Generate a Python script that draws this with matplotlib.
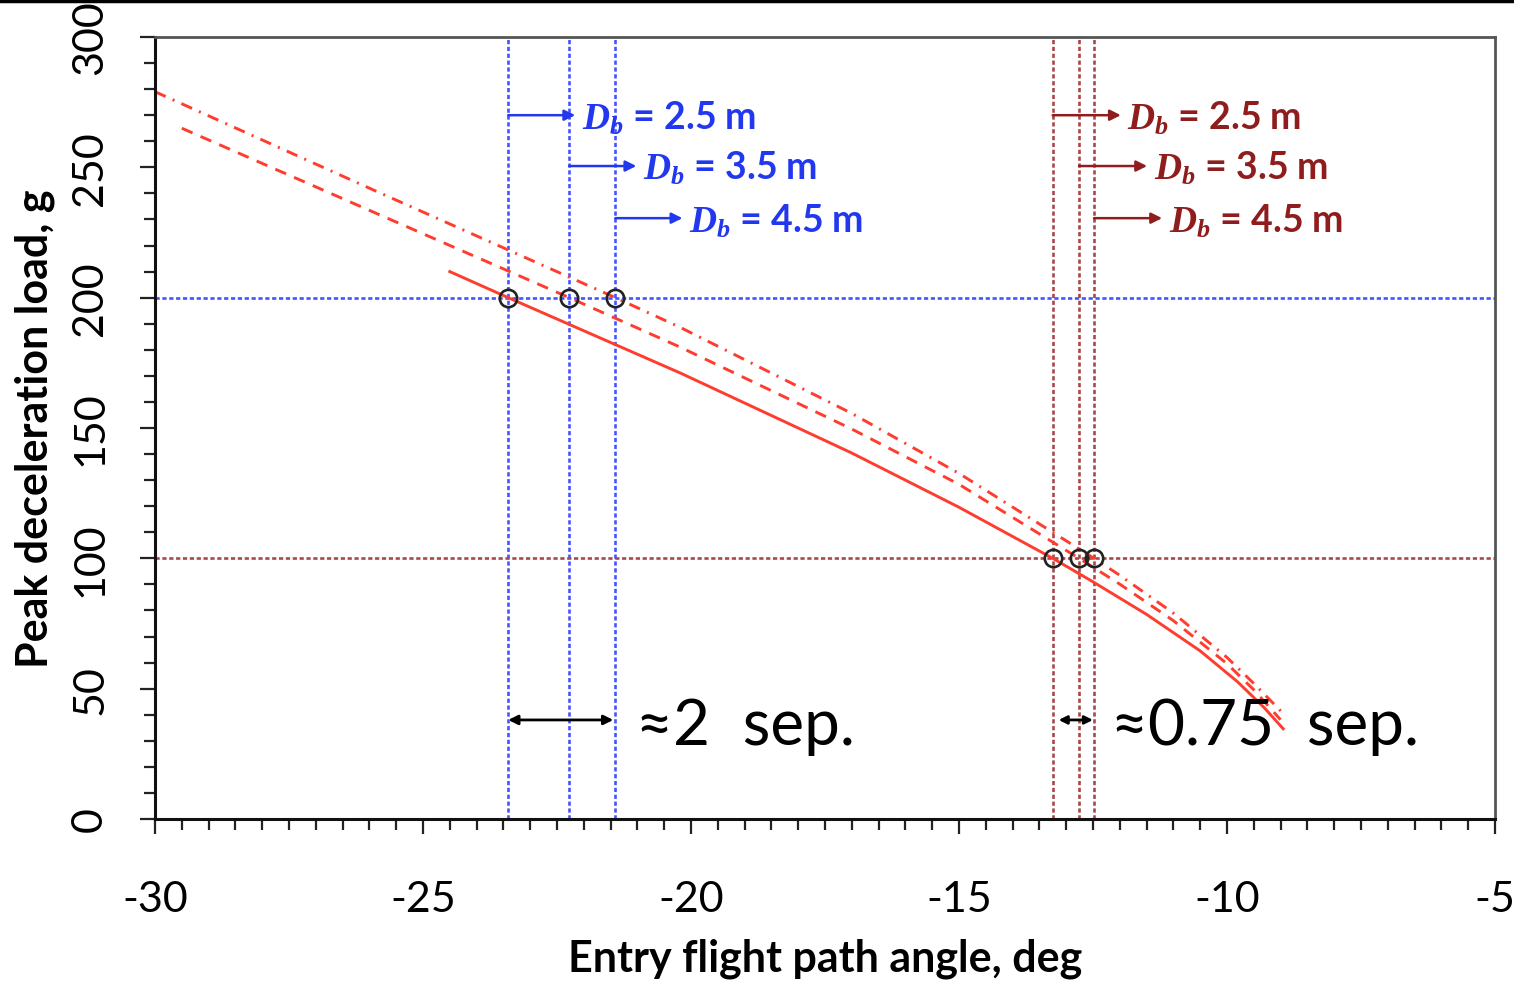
import numpy as np
import matplotlib as mpl
mpl.use('Agg')
import matplotlib.pyplot as plt
from matplotlib.lines import Line2D

# curve readings (entry flight path angle, deg / peak decel, g)
solid_x = [-24.5, -23.41, -21.7, -20.2, -17.0, -15.0, -13.25, -12.5, -11.5, -10.5, -9.8, -9.3, -8.95]
solid_y = [210, 200, 184.6, 171.1, 140.4, 119.6, 100, 91, 78.5, 64.5, 52.6, 42.6, 34.6]

dash_x = [-29.5, -26.0, -22.27, -20.2, -17.0, -15.0, -12.76, -12.0, -11.0, -10.0, -9.5, -9.0]
dash_y = [265, 233.5, 200, 181, 149.6, 128.4, 100, 90.1, 76.1, 59.6, 49.6, 38.1]

dashdot_x = [-30.0, -26.0, -21.41, -20.2, -17.0, -15.0, -12.48, -12.0, -11.0, -10.0, -9.5, -8.96]
dashdot_y = [279, 242, 200, 188.6, 155.6, 132.6, 100, 93.5, 79, 62, 52, 40.7]

# intersections (g limits 200 and 100)
blue_x = [-23.41, -22.27, -21.41]
red_x = [-13.25, -12.76, -12.48]
blue_g = 200
red_g = 100

diam = ['2.5', '3.5', '4.5']
blue_label_y = [270, 250.5, 230.5]
red_label_y = [270, 250.5, 230.5]

sep_labels = ['\u22482  sep.', '\u22480.75  sep.']

curve_col = '#ff3d2e'
blue_col = '#2238ee'
blue_line = '#4455ff'
red_col = '#8f1d1d'
red_line = '#a84848'

plt.rcParams['font.family'] = ['Lato', 'DejaVu Sans']
plt.rcParams['axes.unicode_minus'] = False
plt.rcParams['mathtext.fontset'] = 'custom'
plt.rcParams['mathtext.it'] = 'Liberation Serif:italic:bold'
plt.rcParams['mathtext.rm'] = 'Lato:bold'


def main():
    fig = plt.figure(figsize=(15.14, 9.87), dpi=100)
    ax = fig.add_axes([0.1024, 0.1692, 0.8850, 0.7923])

    ax.set_xlim(-30, -5)
    ax.set_ylim(0, 300)

    # guide lines
    dots = (0, (1.6, 1.0))
    for xv in blue_x:
        ax.axvline(xv, color=blue_line, lw=1.9, ls=dots, zorder=1)
    ax.axhline(blue_g, color=blue_line, lw=1.9, ls=dots, zorder=1)
    for xv in red_x:
        ax.axvline(xv, color=red_line, lw=1.9, ls=dots, zorder=1)
    ax.axhline(red_g, color=red_line, lw=1.9, ls=dots, zorder=1)

    # curves
    ax.plot(solid_x, solid_y, color=curve_col, lw=2.1, zorder=2)
    ax.plot(dash_x, dash_y, color=curve_col, lw=2.1, ls=(0, (4.0, 3.0)), zorder=2)
    ax.plot(dashdot_x, dashdot_y, color=curve_col, lw=2.1, ls=(0, (4.0, 2.6, 0.7, 2.6)), zorder=2)

    # circles at intersections
    ax.plot(blue_x, [blue_g] * 3, 'o', ms=12.5, mfc='none', mec='#222222', mew=1.9, zorder=3)
    ax.plot(red_x, [red_g] * 3, 'o', ms=12.5, mfc='none', mec='#222222', mew=1.9, zorder=3)

    # D_b labels with arrows
    for xs, ys, col, dx in [(blue_x, blue_label_y, blue_col, 1.25), (red_x, red_label_y, red_col, 1.27)]:
        for xv, yv, d in zip(xs, ys, diam):
            ax.annotate('', xy=(xv + dx, yv), xytext=(xv, yv),
                        arrowprops=dict(arrowstyle='-|>', color=col, lw=1.8, mutation_scale=16,
                                        shrinkA=0, shrinkB=0))
            ax.text(xv + dx + 0.12, yv - 5, r'$D_b$ = ' + d + ' m', color=col,
                    fontsize=27, fontweight='bold', ha='left', va='baseline')

    # separation arrows
    ax.annotate('', xy=(-21.45, 38), xytext=(blue_x[0], 38),
                arrowprops=dict(arrowstyle='<|-|>', color='black', lw=2, mutation_scale=14,
                                shrinkA=0, shrinkB=0))
    ax.annotate('', xy=(-12.50, 38), xytext=(-13.14, 38),
                arrowprops=dict(arrowstyle='<|-|>', color='black', lw=2, mutation_scale=12,
                                shrinkA=0, shrinkB=0))
    ax.text(-21.02, 28.8, sep_labels[0], fontsize=46, ha='left', va='baseline', color='black')
    ax.text(-12.17, 28.8, sep_labels[1], fontsize=46, ha='left', va='baseline', color='black')

    # axes style
    ax.set_xticks(np.arange(-30, -4, 5))
    ax.set_xticks(np.arange(-30, -4.9, 0.5), minor=True)
    ax.set_yticks(np.arange(0, 301, 50))
    ax.set_yticks(np.arange(0, 301, 10), minor=True)
    ax.tick_params(axis='both', which='major', direction='out', length=11, width=1.6,
                   labelsize=31, color='#222222')
    ax.tick_params(axis='both', which='minor', direction='out', length=8, width=1.6, color='#222222')
    ax.tick_params(axis='x', which='major', pad=33)
    ax.tick_params(axis='y', which='major', pad=22)
    for lab in ax.get_yticklabels():
        lab.set_rotation(90)
        lab.set_va('center')

    for side in ['left', 'bottom']:
        ax.spines[side].set_linewidth(2.2)
        ax.spines[side].set_color('#111111')
    for side in ['top', 'right']:
        ax.spines[side].set_linewidth(2.0)
        ax.spines[side].set_color('#555555')

    ax.set_xlabel('Entry flight path angle, deg', fontsize=31, fontweight='bold', labelpad=14)
    ax.set_ylabel('Peak deceleration load, g', fontsize=31, fontweight='bold', labelpad=12)

    # top border of the screenshot
    fig.add_artist(Line2D([0, 1], [0.998, 0.998], transform=fig.transFigure, color='black', lw=2.5))

    fig.savefig('out.png', dpi=100)


if __name__ == "__main__":
    main()
